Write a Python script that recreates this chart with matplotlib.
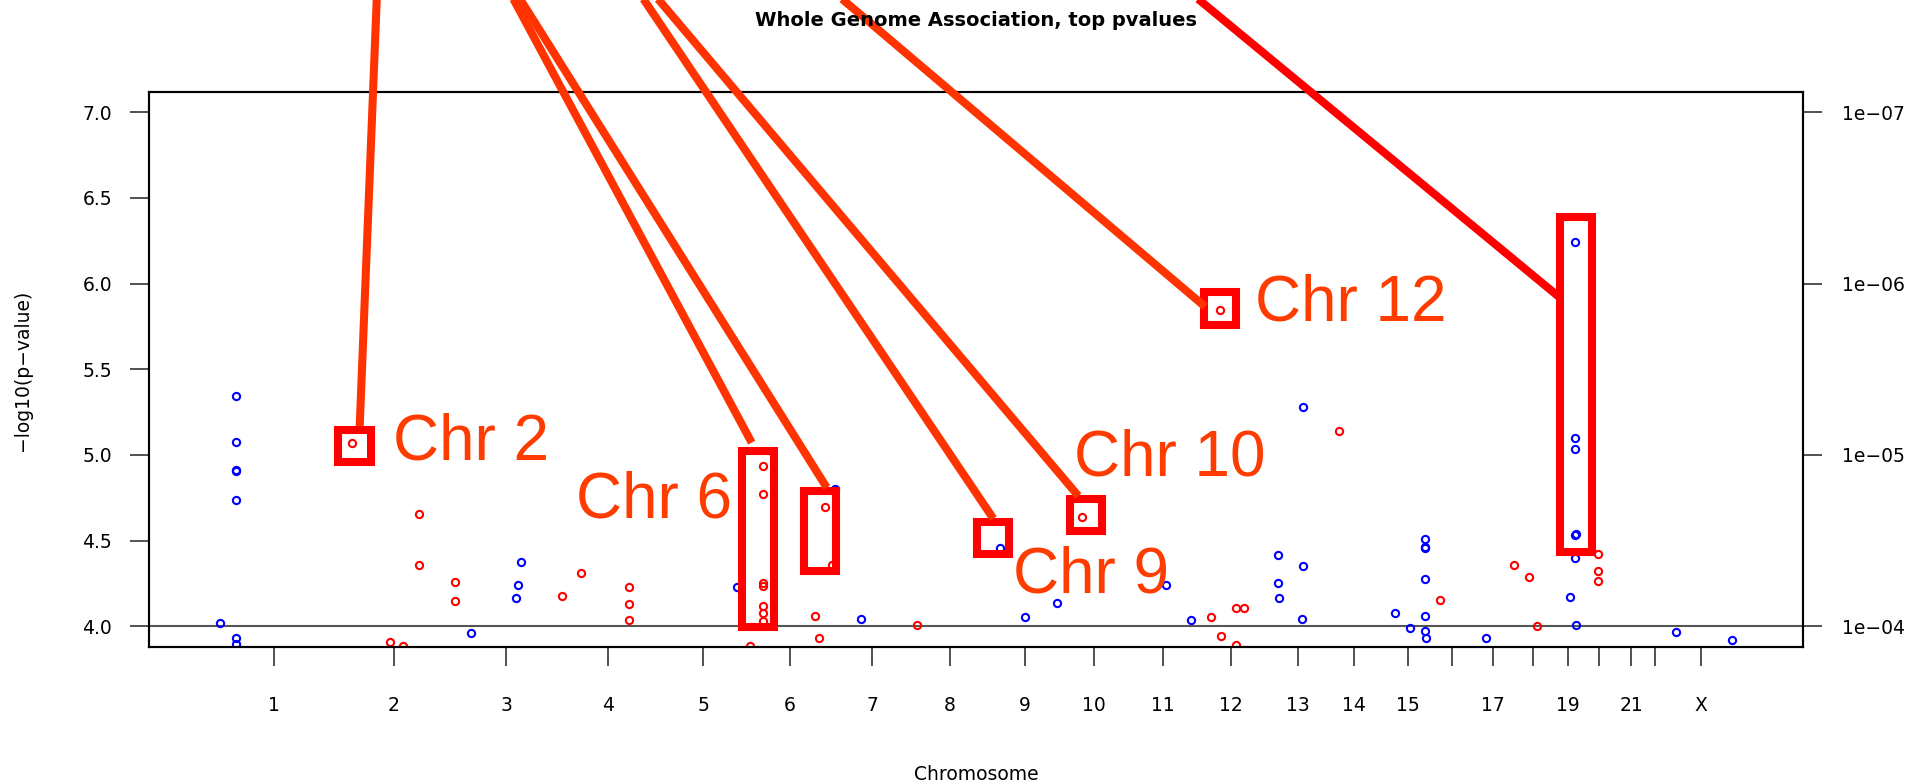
import matplotlib
matplotlib.use("Agg")
import matplotlib.pyplot as plt
from matplotlib.patches import Rectangle
from matplotlib.ticker import FormatStrFormatter

# chromosome midpoints on the cumulative genome axis (Mb)
chrom_names = ["1", "2", "3", "4", "5", "6", "7", "8", "9", "10", "11", "12",
               "13", "14", "15", "16", "17", "18", "19", "20", "21", "22", "X"]
chrom_mid_mb = [123.5, 361.3, 582.6, 784.0, 971.6, 1143.4, 1305.4, 1459.4, 1606.5,
                1743.8, 1880.0, 2013.5, 2146.6, 2257.2, 2363.8, 2450.7, 2531.7,
                2610.7, 2679.8, 2741.0, 2804.2, 2851.6, 2942.4]
chrom_tick_labels = ["1", "2", "3", "4", "5", "6", "7", "8", "9", "10", "11", "12",
                     "13", "14", "15", "", "17", "", "19", "", "21", "", "X"]

# top SNPs: chromosome, cumulative position (Mb), -log10(p)
snp_chr = (["1"] * 8 + ["2"] * 7 + ["3"] * 4 + ["4"] * 5 + ["5"] + ["6"] * 12
           + ["7"] * 2 + ["8"] + ["9"] * 3 + ["10"] + ["11"] * 2 + ["12"] * 6
           + ["13"] * 6 + ["14"] + ["15"] * 9 + ["16"] + ["17"] + ["18"] * 3
           + ["19"] * 8 + ["20"] * 3 + ["X"] * 2)
snp_pos_mb = [48.9, 48.9, 48.9, 49.6, 48.9, 17.9, 48.9, 48.9,
              279.1, 354.1, 379.2, 410.8, 410.8, 482.5, 482.5,
              514.1, 611.6, 606.3, 601.8,
              692.6, 730.1, 826.1, 826.1, 826.1,
              1039.4,
              1090.7, 1090.7, 1090.7, 1090.7, 1090.7, 1090.7, 1090.7, 1064.4,
              1212.5, 1225.8, 1193.4, 1200.1,
              1232.3, 1283.6,
              1394.8,
              1558.1, 1608.1, 1671.3,
              1720.6,
              1885.9, 1935.3,
              1974.8, 1993.9, 1992.5, 2023.6, 2040.5, 2023.6,
              2155.9, 2106.5, 2106.5, 2109.1, 2156.5, 2154.5,
              2227.5,
              2338.7, 2368.3, 2397.4, 2397.4, 2398.0, 2397.4, 2397.4, 2397.4, 2399.4,
              2426.4,
              2518.4,
              2573.1, 2603.3, 2618.0,
              2694.2, 2694.2, 2694.2, 2694.2, 2694.8, 2694.2, 2683.1, 2695.4,
              2739.6, 2739.6, 2739.6,
              2893.0, 3003.0]
snp_logp = [5.344, 5.076, 4.911, 4.905, 4.737, 4.018, 3.934, 3.899,
            5.068, 3.908, 3.885, 4.658, 4.358, 4.261, 4.150,
            3.959, 4.375, 4.241, 4.163,
            4.177, 4.313, 4.229, 4.128, 4.039,
            4.228,
            4.934, 4.772, 4.251, 4.235, 4.119, 4.080, 4.031, 3.885,
            4.696, 4.358, 4.060, 3.934,
            4.800, 4.045,
            4.010,
            4.459, 4.053, 4.134,
            4.638,
            4.241, 4.035,
            4.057, 3.943, 5.846, 4.107, 4.107, 3.891,
            5.277, 4.419, 4.255, 4.168, 4.350, 4.045,
            5.140,
            4.080, 3.992, 4.512, 4.455, 4.462, 4.274, 4.058, 3.975, 3.934,
            4.154,
            3.930,
            4.356, 4.290, 4.002,
            6.243, 5.097, 5.035, 4.535, 4.540, 4.401, 4.173, 4.010,
            4.420, 4.321, 4.263,
            3.969, 3.920]

right_ticks = [4, 5, 6, 7]
right_labels = ["1e\u221204", "1e\u221205", "1e\u221206", "1e\u221207"]

# highlighted regions (boxes) and callout lines
box_x0 = [251.7, 1048.6, 1171.9, 1512.7, 1695.8, 1960.4, 2664.8]
box_x1 = [315.2, 1111.8, 1234.9, 1575.9, 1759.5, 2024.8, 2727.7]
box_y0 = [4.961, 3.994, 4.321, 4.423, 4.559, 5.761, 4.432]
box_y1 = [5.148, 5.022, 4.788, 4.609, 4.745, 5.952, 6.389]
line_x0 = [329.7, 565.2, 573.1, 813.9, 832.6, 1176.2, 1877.3]
line_y0 = [7.835] * 7
line_x1 = [293.7, 1067.8, 1215.9, 1544.9, 1712.8, 1962.9, 2667.3]
line_y1 = [5.168, 5.072, 4.810, 4.629, 4.761, 5.865, 5.909]
line_colors = ["#ff3300"] * 6 + ["#ff0000"]
label_text = ["Chr 2", "Chr 6", "Chr 9", "Chr 10", "Chr 12"]
label_x = [358.9, 1028.9, 1583.8, 1703.7, 2062.3]
label_y = [4.975, 4.635, 4.197, 4.881, 5.782]
label_ha = ["left", "right", "left", "left", "left"]

W, H = 1927, 784
fig = plt.figure(figsize=(W / 100, H / 100), dpi=100)
ax = fig.add_axes([149 / W, 1 - 647 / H, (1803 - 149) / W, (647 - 91.5) / H])

odd = {c: i % 2 == 0 for i, c in enumerate(chrom_names)}
for is_odd, col in [(True, "#0000ff"), (False, "#ff0000")]:
    xs = [x for c, x in zip(snp_chr, snp_pos_mb) if odd[c] == is_odd]
    ys = [y for c, y in zip(snp_chr, snp_logp) if odd[c] == is_odd]
    ax.plot(xs, ys, "o", ms=5.2, mew=1.5, mfc="none", mec=col, zorder=3)

ax.axhline(4, color="#555555", lw=1.5, zorder=2)
ax.set_xlim(-122.4, 3143.8)
ax.set_ylim(3.88, 7.12)
ax.set_xticks(chrom_mid_mb)
ax.set_xticklabels(chrom_tick_labels)
ax.set_yticks([4.0, 4.5, 5.0, 5.5, 6.0, 6.5, 7.0])
ax.yaxis.set_major_formatter(FormatStrFormatter("%.1f"))
ax.tick_params(axis="y", length=14, width=1.2, pad=12.7, labelsize=13.5, color="#333333")
ax.tick_params(axis="x", length=14, width=1.2, pad=21, labelsize=13.5, color="#333333")
for sp in ax.spines.values():
    sp.set_linewidth(1.5)

ax2 = ax.twinx()
ax2.set_ylim(ax.get_ylim())
ax2.set_yticks(right_ticks)
ax2.set_yticklabels(right_labels)
ax2.tick_params(axis="y", length=14, width=1.2, pad=14, labelsize=13.5, color="#333333")
for sp in ax2.spines.values():
    sp.set_linewidth(1.5)

fig.text(976 / W, 1 - 26 / H, "Whole Genome Association, top pvalues",
         ha="center", va="baseline", fontsize=14, fontweight="bold")
fig.text(23 / W, 1 - 370 / H, "\u2212log10(p\u2212value)", rotation=90,
         ha="center", va="center", fontsize=13.5)
fig.text(976 / W, 1 - 780 / H, "Chromosome", ha="center", va="baseline", fontsize=13.5)

for x0, x1, y0, y1 in zip(box_x0, box_x1, box_y0, box_y1):
    ax2.add_patch(Rectangle((x0, y0), x1 - x0, y1 - y0, fill=False, ec="#ff0000",
                            lw=5.8, joinstyle="miter", clip_on=False, zorder=5))
for xa, ya, xb, yb, c in zip(line_x0, line_y0, line_x1, line_y1, line_colors):
    ax2.plot([xa, xb], [ya, yb], color=c, lw=5.8, solid_capstyle="butt",
             clip_on=False, zorder=6)
for s, x, y, ha in zip(label_text, label_x, label_y, label_ha):
    ax2.text(x, y, s, fontsize=46, color="#ff3c00", family="Liberation Sans",
             ha=ha, va="baseline", zorder=7)

fig.savefig("out.png", dpi=100)
